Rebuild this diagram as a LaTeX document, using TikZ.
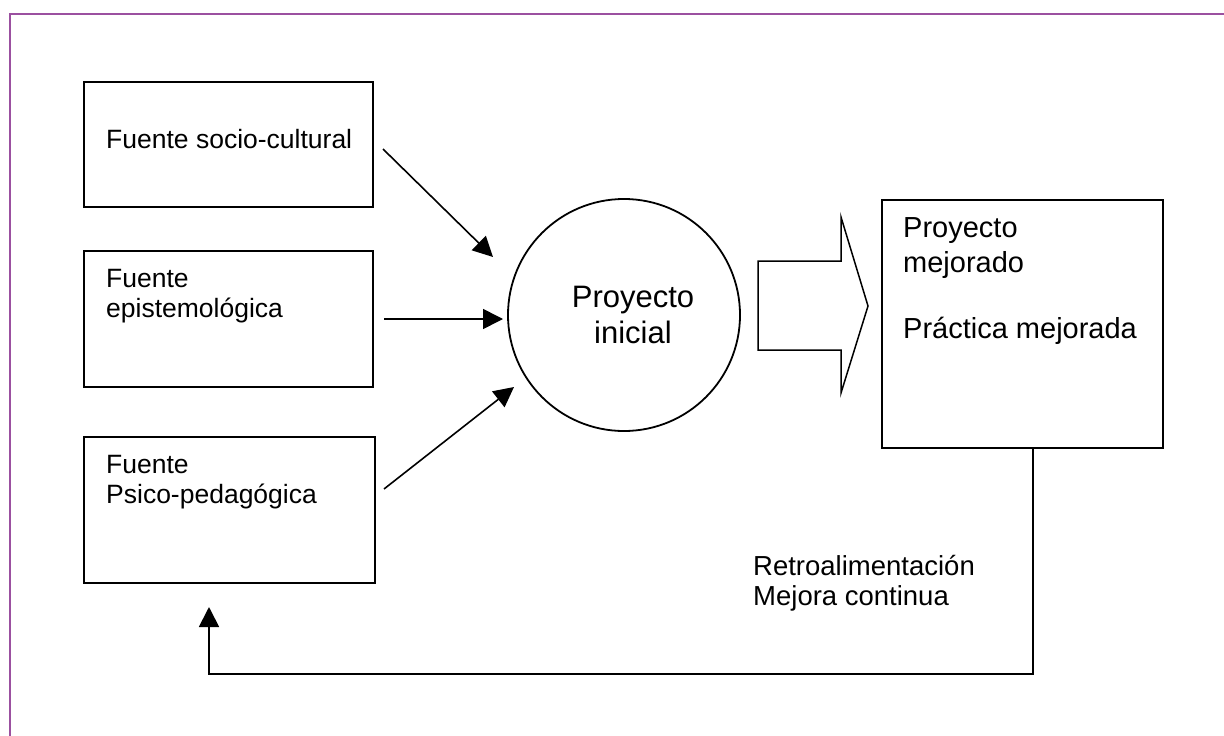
\documentclass[tikz,border=0pt]{standalone}
\usepackage{fontspec}
\setmainfont{Liberation Sans}
\usetikzlibrary{arrows.meta,positioning}
\definecolor{framepurple}{RGB}{155,80,160}

\begin{document}
\begin{tikzpicture}[x=1pt,y=-1pt,
        box/.style={draw,line width=2pt,rectangle,anchor=north west,inner sep=0pt,outer sep=0pt},
        txt/.style={anchor=base west,inner sep=0pt,font=\fontsize{26.5}{30}\selectfont},
        mejtxt/.style={txt,font=\fontsize{29}{34}\selectfont},
        fbtxt/.style={txt,font=\fontsize{27.5}{32}\selectfont},
        bigtxt/.style={anchor=base,inner sep=0pt,font=\fontsize{31}{36}\selectfont},
        flow/.style={line width=1.6pt,-{Triangle[length=20pt,width=20pt]}}]
    \useasboundingbox (0,0) rectangle (1224,736);
    \draw[framepurple,line width=2pt] (10,736) -- (10,14) -- (1224,14);
    % sources
    \node[box,minimum width=289pt,minimum height=125pt] (srcsoc) at (84,82) {};
    \node[box,minimum width=289pt,minimum height=136pt] (srcepi) at (84,251) {};
    \node[box,minimum width=291pt,minimum height=146pt] (srcpsi) at (84,437) {};
    \node[txt] (tsoc) at (106,148) {Fuente socio-cultural};
    \node[txt] (tepi1) at (106,287) {Fuente};
    \node[txt] (tepi2) at (106,317) {epistemológica};
    \node[txt] (tpsi1) at (106,473) {Fuente};
    \node[txt] (tpsi2) at (106,503) {Psico-pedagógica};
    % project
    \node[draw,circle,line width=1.8pt,minimum size=232pt,inner sep=0pt] (proyini) at (624,315) {};
    \node[bigtxt] (tini1) at (633,307) {Proyecto};
    \node[bigtxt] (tini2) at (633,343) {inicial};
    \node[box,minimum width=281pt,minimum height=248pt] (proymej) at (882,200) {};
    \node[mejtxt] (tmej1) at (903,237) {Proyecto};
    \node[mejtxt] (tmej2) at (903,272) {mejorado};
    \node[mejtxt] (tmej3) at (903,338) {Práctica mejorada};
    % arrows into the circle
    \coordinate (socout) at (383,149); \coordinate (socin) at (493,257);
    \coordinate (epiout) at (384,319); \coordinate (epiin) at (503,319);
    \coordinate (psiout) at (384,489); \coordinate (psiin) at (514,387);
    \draw[flow] (socout) -- (socin);
    \draw[flow] (epiout) -- (epiin);
    \draw[flow] (psiout) -- (psiin);
    % block arrow
    \draw[line width=1.5pt,line join=miter] (758,261) -- (841,261) -- (841,217) -- (868,306)
        -- (841,393) -- (841,350) -- (758,350) -- cycle;
    % feedback
    \coordinate (fbturn) at (1033,674);
    \coordinate (fbtip) at (209,607);
    \draw[flow,line width=1.8pt] (proymej.south -| fbturn) -- (fbturn) -| (fbtip);
    \node[fbtxt] (tfb1) at (753,575) {Retroalimentación};
    \node[fbtxt] (tfb2) at (753,605) {Mejora continua};
\end{tikzpicture}
\end{document}
